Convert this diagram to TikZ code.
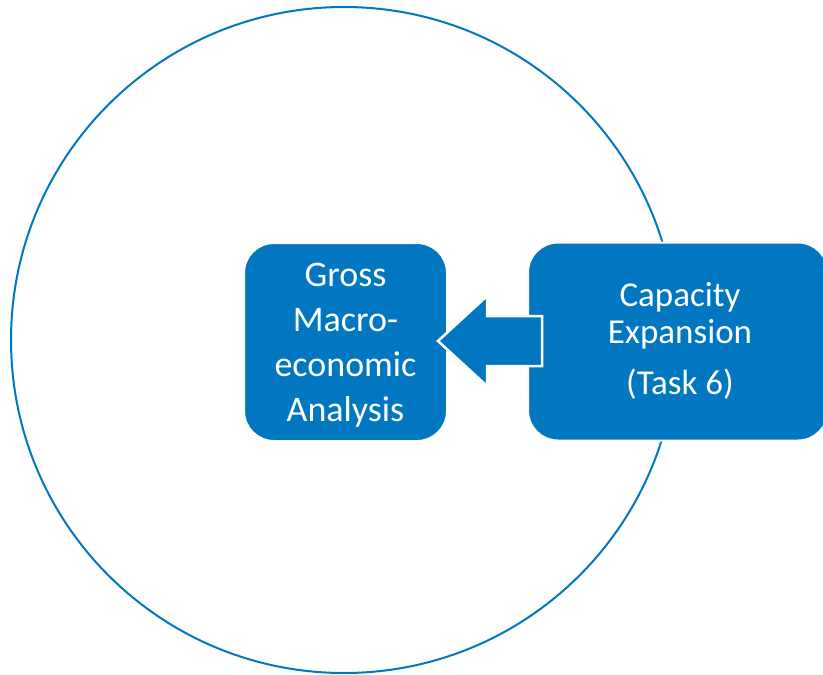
\documentclass[tikz,border=0pt]{standalone}
\usepackage{fontspec}
\setmainfont{Carlito}
\definecolor{blu}{RGB}{0,119,192}
\begin{document}
\begin{tikzpicture}[x=1pt,y=-1pt,
  box/.style={rounded corners=30pt, fill=blu, draw=white, line width=2pt, inner sep=0pt},
  boxtext/.style={text=white, align=center, font=\fontsize{35}{45}\selectfont, inner sep=0pt},
  ring/.style={draw=blu, line width=2pt},
  blockarrow/.style={fill=blu, draw=white, line width=2.5pt, line join=miter}]
\useasboundingbox (0,0) rectangle (823,675);
\draw[ring] (344,340) circle[radius=333];
\node[box, minimum width=203pt, minimum height=198pt] (gma) at (345.5,342) {};
\node[boxtext, font=\fontsize{36}{45}\selectfont] (gmat) at ([yshift=-3pt]gma.center) {Gross\\Macro-\\economic\\Analysis};
\node[box, minimum width=300pt, minimum height=198pt, anchor=west] (cap) at (527,341.5) {};
\node[boxtext, font=\fontsize{35}{37}\selectfont] (capt) at (680,341) {Capacity\\Expansion\\[14pt](Task 6)};
\draw[blockarrow] ([xshift=-10pt,yshift=1pt]gma.east) -- ++(49,-45) -- ++(0,20) -- ++(55,0)
  -- ++(0,50) -- ++(-55,0) -- ++(0,20) -- cycle;
\end{tikzpicture}
\end{document}
